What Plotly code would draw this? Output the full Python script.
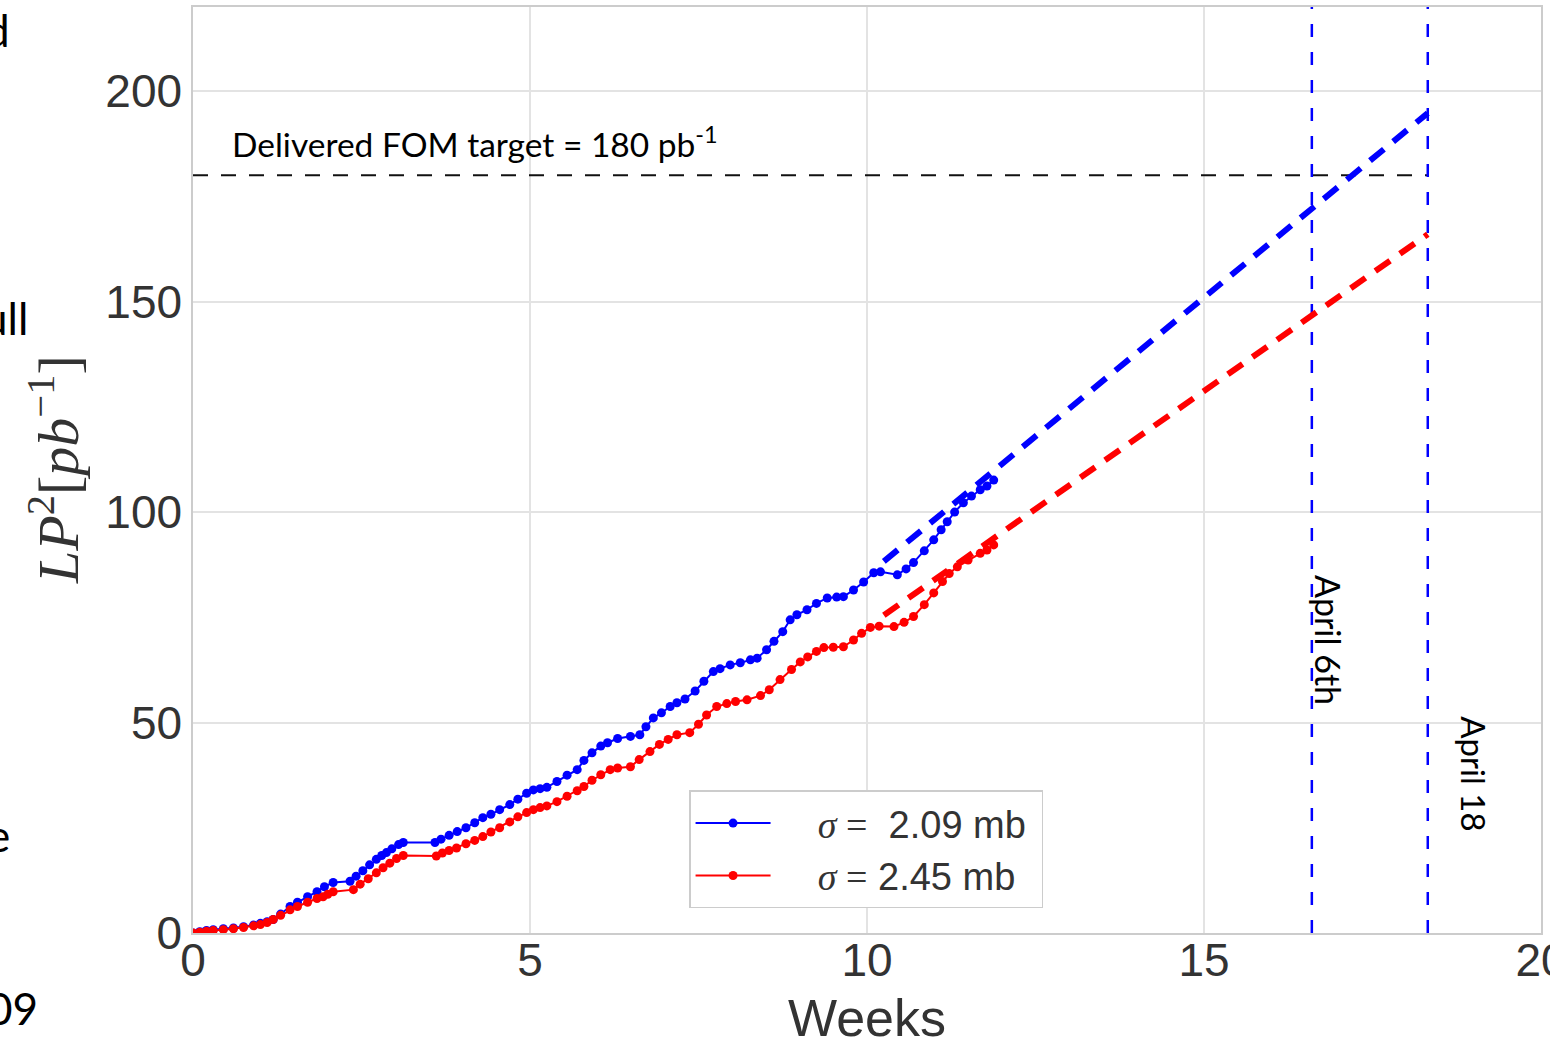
import plotly.graph_objects as go

# ---- data ----
weeks_a = [0.00, 0.10, 0.20, 0.30, 0.45, 0.60, 0.75, 0.90, 1.00, 1.10, 1.19, 1.30, 1.44, 1.55, 1.70, 1.84,
           1.95, 2.08, 2.33, 2.42, 2.52, 2.62, 2.72, 2.80, 2.87, 2.95, 3.05, 3.12, 3.59, 3.68, 3.80, 3.92,
           4.05, 4.18, 4.30, 4.42, 4.55, 4.70, 4.82, 4.95, 5.05, 5.15, 5.25, 5.40, 5.55, 5.70, 5.80, 5.92,
           6.05, 6.15, 6.30, 6.49, 6.63, 6.72, 6.83, 6.95, 7.08, 7.18, 7.30, 7.45, 7.58, 7.72, 7.82, 7.97,
           8.12, 8.27, 8.37, 8.51, 8.62, 8.75, 8.86, 8.96, 9.11, 9.25, 9.41, 9.55, 9.65, 9.80, 9.95, 10.10,
           10.20, 10.45, 10.58, 10.69, 10.85, 10.99, 11.10, 11.19, 11.30, 11.43, 11.55, 11.68, 11.78, 11.88]
lp2_a = [0.0, 0.3, 0.6, 0.8, 1.0, 1.2, 1.5, 1.9, 2.3, 2.7, 3.2, 4.5, 6.3, 7.3, 8.6, 9.8,
         11.0, 12.0, 12.3, 13.5, 14.8, 16.2, 17.5, 18.4, 19.1, 20.0, 21.0, 21.5, 21.5, 22.3, 23.2, 24.1,
         25.0, 26.2, 27.4, 28.2, 29.3, 30.5, 31.8, 33.2, 34.0, 34.3, 34.6, 36.0, 37.5, 38.8, 41.0, 42.8,
         44.4, 45.2, 46.2, 46.7, 47.1, 49.0, 51.1, 52.3, 53.8, 54.7, 55.6, 57.5, 59.8, 62.1, 62.8, 63.7,
         64.2, 64.9, 65.3, 67.3, 69.3, 71.6, 74.4, 75.6, 76.8, 78.3, 79.6, 79.8, 79.9, 81.5, 83.4, 85.6,
         85.8, 85.1, 86.5, 88.0, 90.8, 93.4, 95.8, 97.7, 100.0, 102.2, 103.8, 105.3, 106.2, 107.6]

weeks_b = [0.00, 0.10, 0.20, 0.30, 0.45, 0.60, 0.75, 0.90, 1.00, 1.10, 1.19, 1.30, 1.44, 1.55, 1.70, 1.84,
           1.93, 2.00, 2.08, 2.38, 2.48, 2.60, 2.72, 2.82, 2.92, 3.02, 3.12, 3.61, 3.70, 3.80, 3.91, 4.05,
           4.18, 4.30, 4.42, 4.55, 4.70, 4.82, 4.95, 5.05, 5.15, 5.25, 5.40, 5.55, 5.70, 5.80, 5.92, 6.05,
           6.19, 6.30, 6.49, 6.62, 6.78, 6.92, 7.05, 7.18, 7.37, 7.50, 7.62, 7.77, 7.92, 8.05, 8.22, 8.42,
           8.55, 8.71, 8.88, 9.01, 9.12, 9.25, 9.36, 9.50, 9.65, 9.80, 9.92, 10.05, 10.18, 10.40, 10.55, 10.69,
           10.85, 10.99, 11.12, 11.22, 11.34, 11.50, 11.68, 11.78, 11.88]
lp2_b = [0.0, 0.2, 0.4, 0.6, 0.8, 1.0, 1.3, 1.7, 2.0, 2.5, 3.2, 4.2, 5.5, 6.3, 7.3, 8.2,
         8.6, 9.2, 9.8, 10.3, 11.6, 12.9, 14.3, 15.5, 16.6, 17.7, 18.4, 18.3, 19.0, 19.6, 20.2, 21.2,
         22.0, 22.9, 24.0, 25.0, 26.4, 27.6, 28.6, 29.3, 29.8, 30.2, 31.2, 32.5, 33.8, 34.8, 36.3, 37.6,
         38.8, 39.2, 39.5, 41.2, 43.1, 44.8, 46.0, 47.1, 47.6, 49.6, 51.8, 53.8, 54.5, 55.0, 55.4, 56.4,
         57.8, 60.2, 62.6, 64.4, 65.6, 66.9, 67.8, 67.9, 68.0, 69.6, 71.2, 72.6, 72.9, 72.8, 73.8, 75.2,
         78.0, 80.8, 83.5, 85.4, 87.0, 88.6, 90.2, 91.0, 92.2]

# projections (start, end)
proj_weeks = [10.25, 18.32]
proj_a = [88.3, 194.8]
proj_b = [75.5, 166.0]

target_value = 180
april6_week = 16.6
april18_week = 18.32

label_a = "    <span style='font-family:Liberation Serif'><i>σ</i> =</span>  2.09 mb "
label_b = "    <span style='font-family:Liberation Serif'><i>σ</i> =</span> 2.45 mb "

BLUE = "#0000ff"
RED = "#ff0000"
TICK = "#333333"

fig = go.Figure()

# target horizontal line
fig.add_trace(go.Scatter(x=[0, april18_week], y=[target_value, target_value], mode="lines",
                         line=dict(color="#111111", width=2, dash="15px,13px"),
                         showlegend=False, hoverinfo="skip"))
# vertical date lines
for xv in (april6_week, april18_week):
    fig.add_trace(go.Scatter(x=[xv, xv], y=[0, 220], mode="lines",
                             line=dict(color=BLUE, width=2.5, dash="13px,15px"),
                             showlegend=False, hoverinfo="skip"))

# data
fig.add_trace(go.Scatter(x=weeks_a, y=lp2_a, mode="lines+markers", name=label_a,
                         line=dict(color=BLUE, width=2), marker=dict(color=BLUE, size=9)))
fig.add_trace(go.Scatter(x=weeks_b, y=lp2_b, mode="lines+markers", name=label_b,
                         line=dict(color=RED, width=2), marker=dict(color=RED, size=9)))

# projections
fig.add_trace(go.Scatter(x=proj_weeks, y=proj_a, mode="lines",
                         line=dict(color=BLUE, width=6, dash="18px,12px"),
                         showlegend=False, hoverinfo="skip"))
fig.add_trace(go.Scatter(x=proj_weeks, y=proj_b, mode="lines",
                         line=dict(color=RED, width=6, dash="18px,12px"),
                         showlegend=False, hoverinfo="skip"))

annotations = [
    dict(x=0.545, y=188, xref="x", yref="y", xanchor="left", yanchor="middle", showarrow=False,
         text="Delivered FOM target = 180 pb<sup>-1</sup>",
         font=dict(family="Lato", size=33.5, color="#000000")),
    dict(x=16.85, y=69.7, xref="x", yref="y", showarrow=False, textangle=90,
         text="April 6th", font=dict(family="Lato", size=34, color="#000000")),
    dict(x=19.0, y=37.8, xref="x", yref="y", showarrow=False, textangle=90,
         text="April 18", font=dict(family="Lato", size=33, color="#000000")),
    dict(x=(54 - 193) / 1348, y=(933 - 470) / 926, xref="paper", yref="paper", showarrow=False,
         textangle=-90, xanchor="center", yanchor="middle",
         text="<i>LP</i><sup>2</sup>[<i>pb</i><sup>−1</sup>]",
         font=dict(family="Liberation Serif", size=58, color=TICK)),
    dict(x=0.5, y=(933 - 1018) / 926, xref="paper", yref="paper", showarrow=False,
         xanchor="center", yanchor="middle",
         text="Weeks", font=dict(family="Liberation Sans", size=52, color=TICK)),
]
# cut-off slide text on the far left
for txt, xr, yc in (("d", 12, 30), ("ull", 30, 318), ("e", 12, 835), ("09", 40, 1008)):
    annotations.append(dict(x=(xr - 193) / 1348, y=(933 - yc) / 926, xref="paper", yref="paper",
                            xanchor="right", yanchor="middle", showarrow=False, text=txt,
                            font=dict(family="Lato", size=44, color="#000000")))

fig.update_layout(
    width=1550, height=1041,
    margin=dict(l=193, r=9, t=7, b=108, autoexpand=False),
    paper_bgcolor="white", plot_bgcolor="white",
    font=dict(family="Liberation Sans", color=TICK),
    annotations=annotations,
    legend=dict(x=0.368, y=0.154, xanchor="left", yanchor="top",
                bgcolor="white", bordercolor="#cccccc", borderwidth=1.5,
                font=dict(family="Liberation Sans", size=38, color=TICK),
                itemwidth=75),
)
fig.update_xaxes(range=[0, 20], tickvals=[0, 5, 10, 15, 20], showgrid=True, gridcolor="#e3e3e3",
                 gridwidth=1.5, zeroline=False, showline=True, mirror=True, linecolor="#cccccc",
                 linewidth=1.5, tickfont=dict(size=46, color=TICK), ticks="",
                 ticklabeloverflow="allow", ticklabelstandoff=-14, automargin=False)
fig.update_yaxes(range=[0, 220], tickvals=[0, 50, 100, 150, 200], showgrid=True, gridcolor="#e3e3e3",
                 gridwidth=1.5, zeroline=False, showline=True, mirror=True, linecolor="#cccccc",
                 linewidth=1.5, tickfont=dict(size=46, color=TICK), ticks="",
                 ticklabeloverflow="allow", automargin=False)

fig.write_html("out.html", config={"displayModeBar": False},
               post_script="document.body.style.margin='0';")
